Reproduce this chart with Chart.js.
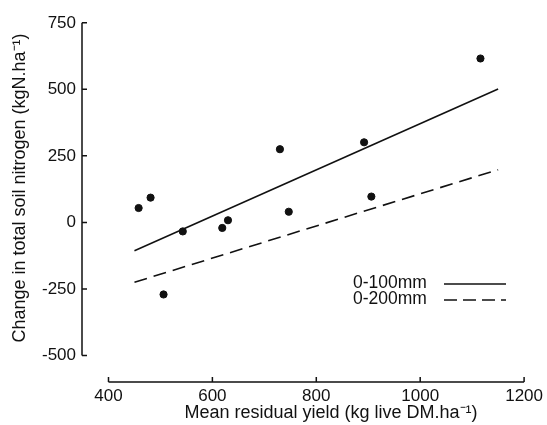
<!DOCTYPE html>
<html>
<head>
<meta charset="utf-8">
<script src="https://cdn.jsdelivr.net/npm/chart.js@4.4.0/dist/chart.umd.min.js"></script>
<style>html,body{margin:0;padding:0;background:#fff}</style>
</head>
<body>
<canvas id="nChart" width="547" height="425"></canvas>
<script>
// observed plots
const yieldX = [458, 481, 543, 506, 619, 630, 747, 730, 892, 906, 1116];
const nitrogenY = [54, 93, -34, -271, -21, 8, 40, 275, 301, 97, 616];
// fitted regression lines
const fitX = [450, 1150];
const fit100Y = [-107, 501];
const fit200Y = [-225, 198];
const seriesLabels = ['0-100mm', '0-200mm'];
const xTicks = [400, 600, 800, 1000, 1200];
const yTicks = [-500, -250, 0, 250, 500, 750];

const FONT = "'Liberation Sans', Arial, sans-serif";
const INK = '#111';

const pts = (xs, ys) => xs.map((v, i) => ({x: v, y: ys[i]}));

const axesPlugin = {
    id: 'axesAndLegend',
    afterDraw(chart) {
        const {ctx, chartArea, scales: {x, y}} = chart;
        ctx.save();
        ctx.strokeStyle = INK;
        ctx.lineWidth = 1.5;
        const ax = chartArea.left, ay = chartArea.bottom;
        ctx.beginPath();
        ctx.moveTo(ax, y.getPixelForValue(yTicks[yTicks.length - 1]));
        ctx.lineTo(ax, y.getPixelForValue(yTicks[0]));
        yTicks.forEach(v => {
            const py = y.getPixelForValue(v);
            ctx.moveTo(ax, py); ctx.lineTo(ax + 5, py);
        });
        ctx.moveTo(x.getPixelForValue(xTicks[0]), ay);
        ctx.lineTo(x.getPixelForValue(xTicks[xTicks.length - 1]), ay);
        xTicks.forEach(v => {
            const px = x.getPixelForValue(v);
            ctx.moveTo(px, ay); ctx.lineTo(px, ay - 5);
        });
        ctx.stroke();

        // axis titles
        ctx.fillStyle = INK;
        ctx.font = '18px ' + FONT;
        ctx.textAlign = 'center';
        ctx.textBaseline = 'middle';
        ctx.fillText('Mean residual yield (kg live DM.ha\u207B\u00B9)', 331, 413);
        ctx.save();
        ctx.translate(20, 188);
        ctx.rotate(-Math.PI / 2);
        ctx.fillText('Change in total soil nitrogen (kgN.ha\u207B\u00B9)', 0, 0);
        ctx.restore();

        // legend: text left, line sample right
        ctx.font = '17.5px ' + FONT;
        ctx.textAlign = 'left';
        const dashes = [[], [13, 6]];
        [283, 299].forEach((ly, i) => {
            ctx.fillText(seriesLabels[i], 353, ly);
            ctx.setLineDash(dashes[i]);
            ctx.beginPath();
            ctx.moveTo(444, ly + 1); ctx.lineTo(506, ly + 1);
            ctx.stroke();
        });
        ctx.restore();
    }
};

const tickFont = { family: FONT, size: 17 };

new Chart(document.getElementById('nChart').getContext('2d'), {
    type: 'scatter',
    data: {
        datasets: [{
            label: 'plots',
            data: pts(yieldX, nitrogenY),
            backgroundColor: INK,
            borderColor: INK,
            pointRadius: 3.6
        }, {
            label: seriesLabels[0],
            data: pts(fitX, fit100Y),
            showLine: true,
            borderColor: INK,
            borderWidth: 1.6,
            pointRadius: 0
        }, {
            label: seriesLabels[1],
            data: pts(fitX, fit200Y),
            showLine: true,
            borderColor: INK,
            borderWidth: 1.6,
            borderDash: [13, 7],
            pointRadius: 0
        }]
    },
    options: {
        responsive: false,
        animation: false,
        layout: { padding: { top: 10, right: 21, left: 0, bottom: 0 } },
        plugins: { legend: { display: false }, tooltip: { enabled: false } },
        scales: {
            x: {
                type: 'linear',
                min: 349, max: 1200,
                afterBuildTicks: s => { s.ticks = xTicks.map(v => ({value: v})); },
                afterFit: s => { s.height = 43; },
                grid: { display: false, drawTicks: false },
                border: { display: false },
                ticks: { font: tickFont, color: INK, padding: 4, maxRotation: 0, autoSkip: false,
                         callback: v => String(v) }
            },
            y: {
                type: 'linear',
                min: -600, max: 775,
                afterBuildTicks: s => { s.ticks = yTicks.map(v => ({value: v})); },
                afterFit: s => { s.width = 82; },
                grid: { display: false, drawTicks: false },
                border: { display: false },
                ticks: { font: tickFont, color: INK, padding: 6, autoSkip: false,
                         callback: v => String(v) }
            }
        }
    },
    plugins: [axesPlugin]
});
</script>
</body>
</html>
